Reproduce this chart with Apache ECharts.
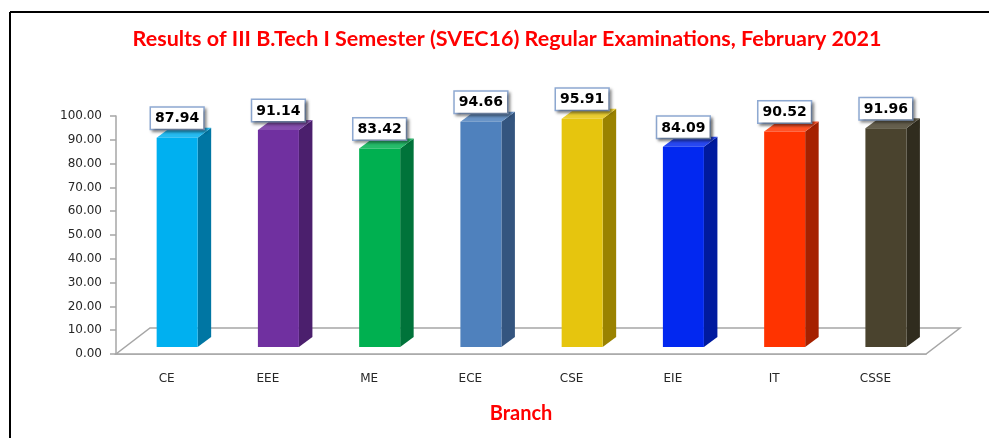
<!DOCTYPE html>
<html>
<head>
<meta charset="utf-8">
<title>Results of III B.Tech I Semester</title>
<script src="https://cdn.jsdelivr.net/npm/echarts@6/dist/echarts.min.js"></script>
<style>
    html, body { margin: 0; padding: 0; background: #fff; }
    #main { width: 989px; height: 438px; }
</style>
</head>
<body>
<div id="main"></div>
<script>
    // data
    var categories = ['CE', 'EEE', 'ME', 'ECE', 'CSE', 'EIE', 'IT', 'CSSE'];
    var passPercent = [87.94, 91.14, 83.42, 94.66, 95.91, 84.09, 90.52, 91.96];
    var yMin = 0, yMax = 100, yStep = 10;

    // front / side colours of each bar
    var frontColors = ['#00B0F0', '#7030A0', '#00B050', '#4F81BD', '#E6C50E', '#0228F0', '#FF3300', '#4A432E'];
    var sideColors  = ['#0076A3', '#4B1F6D', '#00733A', '#34557F', '#9A8200', '#001A9F', '#A52100', '#302C1E'];

    function lighten(hex, k) {
        var n = parseInt(hex.slice(1), 16);
        var r = (n >> 16) & 255, g = (n >> 8) & 255, b = n & 255;
        r = Math.round(r + (255 - r) * k); g = Math.round(g + (255 - g) * k); b = Math.round(b + (255 - b) * k);
        return 'rgb(' + r + ',' + g + ',' + b + ')';
    }

    var chart = echarts.init(document.getElementById('main'), null, { renderer: 'canvas' });

    // floor of the 3D plot (white parallelogram under the bars)
    function renderFloor(params, api) {
        var cs = params.coordSys;
        var x0 = cs.x, x1 = cs.x + cs.width, y = cs.y + cs.height;
        var dx = 34, dy = 26;
        return {
            type: 'polygon',
            shape: { points: [[x0, y], [x1, y], [x1 + dx, y - dy], [x0 + dx, y - dy]] },
            style: { fill: '#fff', stroke: '#A6A6A6', lineWidth: 1.5 }
        };
    }

    // one 3D bar: front face, side face, top face, boxed value label
    function renderBar(params, api) {
        var i = api.value(0), v = api.value(1);
        var base = api.coord([i, 0]);
        var top = api.coord([i, v]);
        var band = api.size([1, 0])[0];
        var w = band * 0.405;
        var cx = base[0] + band * 0.104;
        var x0 = cx - w / 2, x1 = cx + w / 2;
        var yb = base[1] - 7, yt = top[1] - 7;
        var dx = 13.5, dy = 10;
        var front = frontColors[i], side = sideColors[i];
        return {
            type: 'group',
            children: [
                { type: 'polygon', shape: { points: [[x1, yt], [x1 + dx, yt - dy], [x1 + dx, yb - dy], [x1, yb]] },
                  style: { fill: side } },
                { type: 'polygon', shape: { points: [[x0, yt], [x1, yt], [x1 + dx, yt - dy], [x0 + dx, yt - dy]] },
                  style: { fill: lighten(front, 0.15) } },
                { type: 'rect', shape: { x: x0, y: yt, width: w, height: yb - yt },
                  style: { fill: front } },
                { type: 'text', x: cx, y: yt - 9, z2: 10,
                  style: {
                      text: v.toFixed(2),
                      font: 'bold 14px "DejaVu Sans"',
                      fill: '#000',
                      align: 'center',
                      verticalAlign: 'bottom',
                      backgroundColor: '#fff',
                      borderColor: '#8EA9D2',
                      borderWidth: 1.5,
                      padding: [4, 4, 3, 4],
                      shadowColor: 'rgba(0,0,0,0.4)',
                      shadowBlur: 3,
                      shadowOffsetX: 2,
                      shadowOffsetY: 2
                  } }
            ]
        };
    }

    chart.setOption({
        animation: false,
        title: {
            text: 'Results of III B.Tech I Semester (SVEC16) Regular Examinations, February 2021',
            left: 502,
            top: 23,
            textAlign: 'center',
            textStyle: { color: '#FF0000', fontFamily: 'Lato', fontWeight: 'bold', fontSize: 21.5 }
        },
        graphic: [
            { type: 'line', shape: { x1: 10, y1: 12, x2: 989, y2: 12 }, style: { stroke: '#000', lineWidth: 2 } },
            { type: 'line', shape: { x1: 10, y1: 12, x2: 10, y2: 438 }, style: { stroke: '#000', lineWidth: 2 } }
        ],
        grid: { left: 116, right: 63, top: 116, bottom: 84 },
        xAxis: {
            type: 'category',
            data: categories,
            name: 'Branch',
            nameLocation: 'middle',
            nameGap: 50,
            nameTextStyle: { color: '#FF0000', fontFamily: 'Lato', fontWeight: 'bold', fontSize: 20 },
            axisLine: { lineStyle: { color: '#A6A6A6', width: 1.5 } },
            axisTick: { length: 6, lineStyle: { color: '#A6A6A6', width: 1.5 } },
            axisLabel: { margin: 19, color: '#262626', fontFamily: 'DejaVu Sans', fontSize: 12 }
        },
        yAxis: {
            type: 'value',
            min: yMin,
            max: yMax,
            interval: yStep,
            splitLine: { show: false },
            axisLine: { show: true, lineStyle: { color: '#A6A6A6', width: 1.5 } },
            axisTick: { show: true, length: 6, lineStyle: { color: '#A6A6A6', width: 1.5 } },
            axisLabel: {
                margin: 14,
                color: '#262626',
                fontFamily: 'DejaVu Sans',
                fontSize: 12,
                formatter: function (val) { return val.toFixed(2); }
            }
        },
        series: [
            {
                type: 'custom',
                z: 1,
                silent: true,
                renderItem: renderFloor,
                data: [[0, 0]]
            },
            {
                type: 'custom',
                z: 2,
                renderItem: renderBar,
                encode: { x: 0, y: 1 },
                data: passPercent.map(function (v, i) { return [i, v]; })
            }
        ]
    });

    window.addEventListener('resize', function () {
        chart.resize();
    });
</script>
</body>
</html>
